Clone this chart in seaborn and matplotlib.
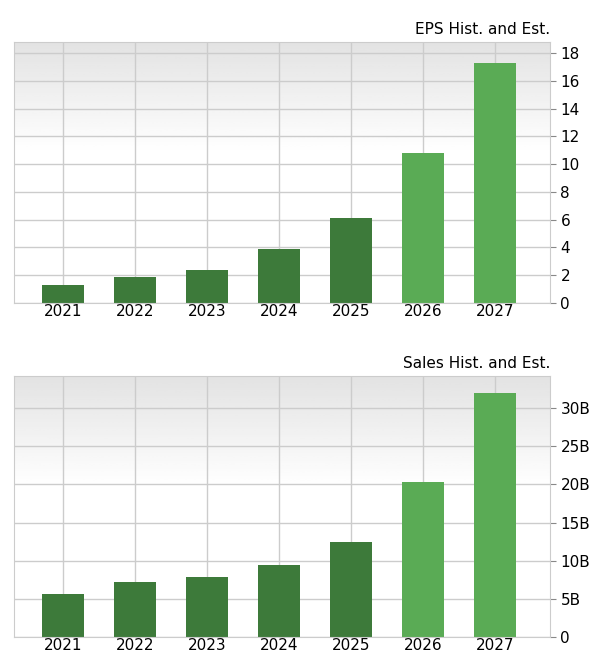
import numpy as np
import pandas as pd
import seaborn as sns
import matplotlib.pyplot as plt

years = ["2021", "2022", "2023", "2024", "2025", "2026", "2027"]
eps = [1.3, 1.9, 2.4, 3.9, 6.1, 10.8, 17.3]
sales = [5.6, 7.2, 7.9, 9.5, 12.4, 20.3, 32.0]
colors = ["#3d7a3a"] * 5 + ["#5aab55"] * 2

sns.set_style("white")
plt.rcParams['font.family'] = ['DejaVu Sans']
plt.rcParams['text.color'] = 'black'

fig = plt.figure(figsize=(6.04, 6.67), dpi=100)
ax1 = fig.add_axes([14 / 604, 1 - 303 / 667, 536 / 604, 261 / 667])
ax2 = fig.add_axes([14 / 604, 1 - 637 / 667, 536 / 604, 261 / 667])

# gray at top fading to white
grad = np.clip(np.linspace(0.89, 1.15, 100), 0, 1).reshape(-1, 1)
XMIN, XMAX = -0.68, 6.76

def draw(ax, vals, ymax, ticks, labels, title):
    df = pd.DataFrame({"year": years, "v": vals})
    ax.imshow(grad, cmap="gray", vmin=0, vmax=1, aspect="auto", origin="upper",
              extent=[XMIN, XMAX, 0, ymax], zorder=0)
    for i in range(len(years)):
        ax.axvline(i, color="#cccccc", lw=1, zorder=1)
    for t in ticks:
        ax.axhline(t, color="#cccccc", lw=1, zorder=1)
    sns.barplot(data=df, x="year", y="v", hue="year", palette=colors,
                legend=False, width=0.58, ax=ax, zorder=2, saturation=1, linewidth=0)
    ax.set_xlim(XMIN, XMAX)
    ax.set_ylim(0, ymax)
    ax.yaxis.tick_right()
    ax.set_yticks(ticks)
    ax.set_yticklabels(labels, fontsize=11, color="black")
    ax.tick_params(axis="x", labelsize=11, length=0, pad=1, labelcolor="black")
    ax.tick_params(axis="y", length=4, direction="out", right=True, color="#888888")
    ax.set_xlabel("")
    ax.set_ylabel("")
    for s in ax.spines.values():
        s.set_color("#cccccc")
    ax.set_title(title, loc="right", fontsize=11, pad=6, color="black")

draw(ax1, eps, 18.8, list(range(0, 19, 2)), [str(t) for t in range(0, 19, 2)],
     "EPS Hist. and Est.")
draw(ax2, sales, 34.2, list(range(0, 31, 5)), ["0"] + [f"{t}B" for t in range(5, 31, 5)],
     "Sales Hist. and Est.")

fig.savefig("out.png")
